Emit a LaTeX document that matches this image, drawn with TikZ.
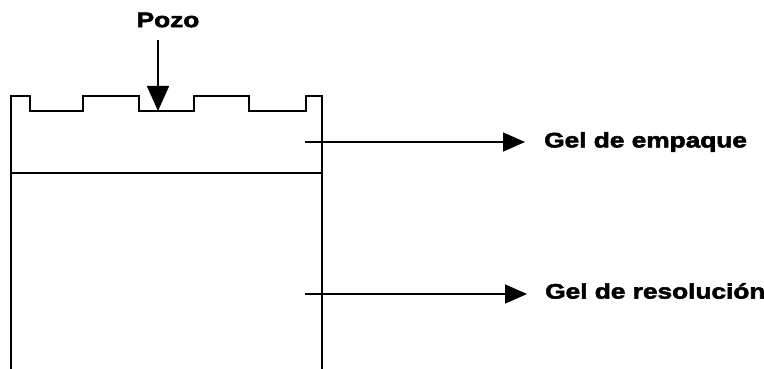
\documentclass[tikz,border=0pt]{standalone}
\usepackage{fontspec}
\newfontfamily\lbl[FakeStretch=1.25,FakeBold=2.6]{Liberation Sans}
\usetikzlibrary{arrows.meta}
\tikzset{
  gel/.style={line width=2pt, line join=miter},
  pointer/.style={line width=1.6pt, -{Triangle[length=22pt,width=19pt]}},
  label/.style={font=\lbl\bfseries\fontsize{21}{25}\selectfont, inner sep=0pt}
}
\begin{document}
\begin{tikzpicture}[x=1pt,y=-1pt]
\useasboundingbox (0,0) rectangle (764,369);
% gel outline with wells
\draw[gel] (11,369) -- (11,96) -- (30,96) -- (30,111) -- (83,111) -- (83,96)
  -- (139,96) -- (139,111) -- (194,111) -- (194,96) -- (249,96) -- (249,111)
  -- (306,111) -- (306,96) -- (322,96) -- (322,369);
\draw[gel] (11,173) -- (322,173);
% labels
\node[label] (pozo) at (168,20) {Pozo};
\node[label, anchor=west] (emp) at (544,142) {Gel de empaque};
\node[label, anchor=west] (res) at (545,291) {Gel de resolución};
% connectors
\coordinate (ptop) at (158,40);
\coordinate (pwell) at (158,111);
\coordinate (e0) at (305,142);
\coordinate (r0) at (305,294);
\draw[pointer, -{Triangle[length=25pt,width=22pt]}] (ptop) -- (pwell);
\draw[pointer] (e0) -- (emp.west |- e0) [shorten >=19pt];
\draw[pointer] (r0) -- (res.west |- r0) [shorten >=18pt];
\end{tikzpicture}
\end{document}
